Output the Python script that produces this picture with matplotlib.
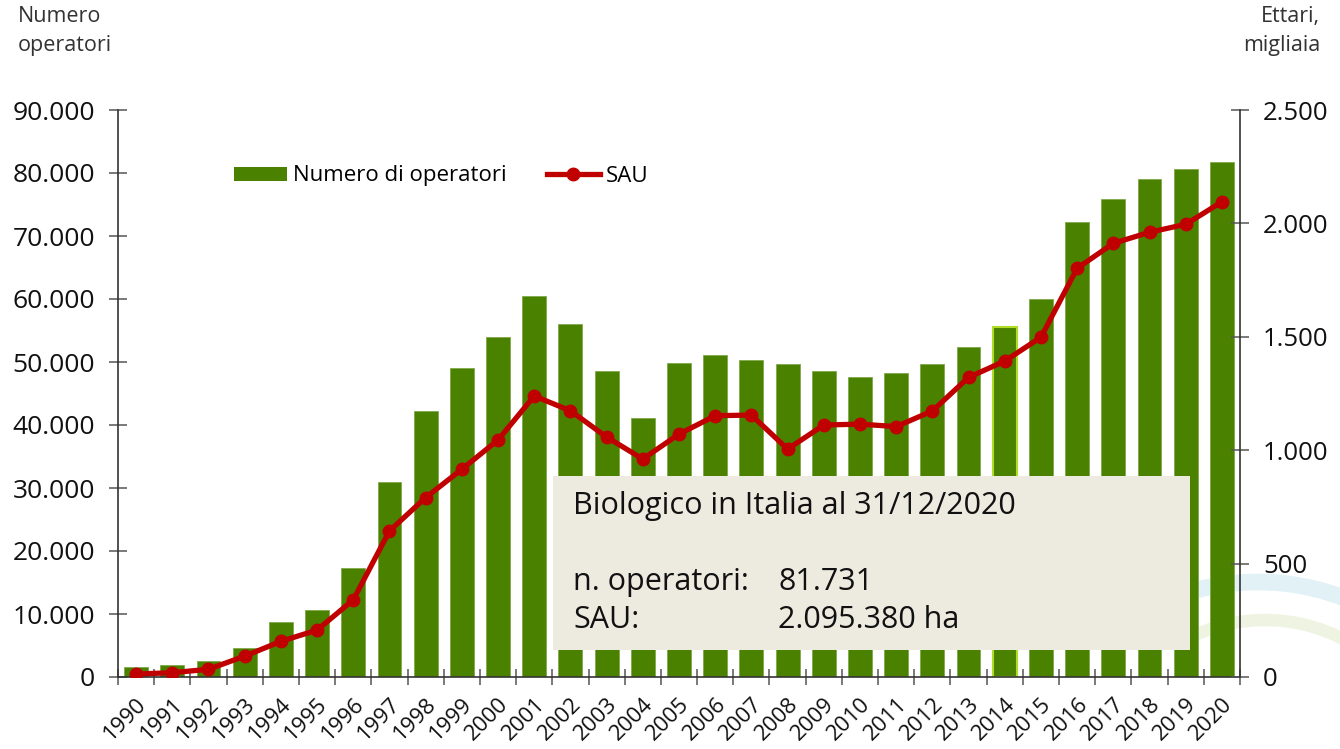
import matplotlib
matplotlib.use("Agg")
import matplotlib.pyplot as plt
from matplotlib.patches import Arc
from matplotlib.lines import Line2D
from matplotlib.patches import Patch
from matplotlib.ticker import FuncFormatter, FixedLocator

plt.rcParams['font.family'] = ['Open Sans', 'DejaVu Sans']

years = [str(y) for y in range(1990, 2021)]
operatori = [1600, 1900, 2540, 4650, 8700, 10700, 17350, 30950, 42270, 49000,
             54000, 60500, 56000, 48570, 41060, 49900, 51060, 50270, 49680, 48570,
             47670, 48300, 49730, 52430, 55560, 60000, 72170, 75870, 79050, 80600,
             81731]
sau = [13, 19, 34, 92, 157, 207, 340, 644, 791, 916,
       1045, 1239, 1174, 1058, 961, 1071, 1152, 1155, 1005, 1111,
       1115, 1104, 1173, 1321, 1393, 1498, 1802, 1912, 1961, 1996,
       2095]
left_ticks = list(range(0, 90001, 10000))
right_ticks = list(range(0, 2501, 500))

W, H = 1340, 749
fig = plt.figure(figsize=(W / 100, H / 100), dpi=100)

# background decorative arcs (watermark)
bg = fig.add_axes([0, 0, 1, 1], zorder=0)
bg.set_xlim(0, W)
bg.set_ylim(H, 0)
bg.axis('off')
bg.add_patch(Arc((1258, 822), 480, 480, theta1=248, theta2=305, color='#e2f1f6', lw=12))
bg.add_patch(Arc((1265, 790), 340, 340, theta1=240, theta2=315, color='#eff4e2', lw=9))

ax = fig.add_axes([118 / W, 1 - 677 / H, (1240 - 118) / W, (677 - 110) / H], zorder=1)
ax.patch.set_visible(False)
x = list(range(len(years)))
bars = ax.bar(x, operatori, width=0.66, color='#4a8200', edgecolor='#7fa94a', linewidth=0.6, zorder=2)
bars[years.index('2014')].set_edgecolor('#b0dc28')
bars[years.index('2014')].set_linewidth(1.5)

ax.set_xlim(-0.5, len(years) - 0.5)
ax.set_ylim(0, 90000)
ax.spines['top'].set_visible(False)
ax.spines['right'].set_visible(False)
for s in ['left', 'bottom']:
    ax.spines[s].set_color('#333333')
    ax.spines[s].set_linewidth(1.2)

fmt = FuncFormatter(lambda v, p: f"{int(v):,}".replace(",", "."))
ax.yaxis.set_major_locator(FixedLocator(left_ticks))
ax.yaxis.set_major_formatter(fmt)
ax.tick_params(axis='y', direction='inout', length=13, width=1.1, color='#555555',
               labelsize=19, pad=10, labelcolor='#111111')

ax.set_xticks(x)
ax.set_xticklabels(years, rotation=45, ha='right', rotation_mode='anchor', fontsize=16, color='#111111')
ax.tick_params(axis='x', which='major', length=0, pad=12)
ax.set_xticks([i + 0.5 for i in range(-1, len(years))], minor=True)
ax.tick_params(axis='x', which='minor', direction='inout', length=12, width=1.1, color='#555555')

ax2 = ax.twinx()
ax2.set_ylim(0, 2500)
ax2.yaxis.set_major_locator(FixedLocator(right_ticks))
ax2.yaxis.set_major_formatter(fmt)
for s in ['top', 'left', 'bottom']:
    ax2.spines[s].set_visible(False)
ax2.spines['right'].set_color('#333333')
ax2.spines['right'].set_linewidth(1.2)
ax2.tick_params(axis='y', direction='inout', length=13, width=1.1, color='#555555',
                labelsize=18.5, pad=10, labelcolor='#111111')
ax2.plot(x, sau, color='#c00000', lw=3.8, marker='o', markersize=9, zorder=3)

# axis titles
fig.text(18 / W, 1 - 6 / H, "Numero\noperatori", ha='left', va='top', fontsize=15.5,
         color='#333333', linespacing=1.5)
fig.text(1320 / W, 1 - 6 / H, "Ettari,\nmigliaia", ha='right', va='top', fontsize=15.5,
         color='#333333', linespacing=1.5)

# legend
handles = [Patch(facecolor='#4a8200', edgecolor='none'),
           Line2D([0], [0], color='#c00000', lw=3.8, marker='o', markersize=9)]
fig.legend(handles, ["Numero di operatori", "SAU"], loc='center left',
           bbox_to_anchor=(214 / W, 1 - 176 / H), ncol=2, frameon=False, fontsize=16,
           handlelength=2.4, handleheight=0.6, handletextpad=0.25, columnspacing=1.8)

# info box
box = fig.add_axes([553 / W, 1 - 650 / H, (1190 - 553) / W, (650 - 476) / H], zorder=5)
box.set_xlim(0, 637)
box.set_ylim(174, 0)
box.set_facecolor('#edeae0')
for s in box.spines.values():
    s.set_visible(False)
box.set_xticks([])
box.set_yticks([])
fs = 22
box.text(20, 30, "Biologico in Italia al 31/12/2020", fontsize=fs, va='center', ha='left', color='#111111')
box.text(20, 106, "n. operatori:", fontsize=fs, va='center', ha='left', color='#111111')
box.text(225, 106, "81.731", fontsize=fs, va='center', ha='left', color='#111111')
box.text(20, 144, "SAU:", fontsize=fs, va='center', ha='left', color='#111111')
box.text(225, 144, "2.095.380 ha", fontsize=fs, va='center', ha='left', color='#111111')

fig.savefig("out.png", dpi=100)
